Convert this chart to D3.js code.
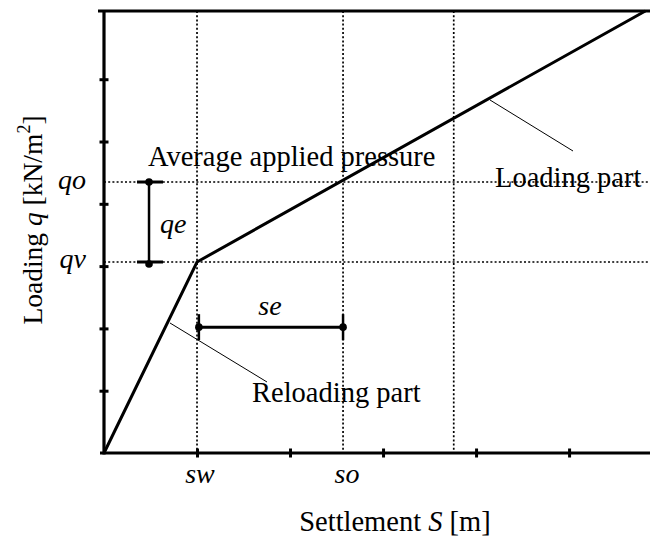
<!DOCTYPE html>
<html><head><meta charset="utf-8">
<script src="https://cdn.jsdelivr.net/npm/d3@7"></script>
<style>body{margin:0;background:#fff}svg{display:block}text{font-family:"Liberation Serif","Times New Roman",serif;fill:#000}</style>
</head><body><svg id="c" width="651" height="540"></svg>
<script>
// Data (x in settlement units, y in loading units)
const curveS = [0, 1.0, 5.82];
const curveQ = [0, 3.066, 7.095];
const xTicks = [1, 2, 3, 4, 5];
const yTicks = [1, 2, 3, 4, 5, 6];
const refS = [1.0, 2.57, 3.76];
const refQ = [3.066, 4.35];
const sLabels = ["sw", "so"];
const qLabels = ["qv", "qo"];
const seLevel = 2.02;
const qeAt = 0.484;

const svg = d3.select("#c");
const x = d3.scaleLinear().domain([0, 5.87]).range([104, 650]);
const y = d3.scaleLinear().domain([0, 7.095]).range([453, 11]);
const X0 = x(0), X1 = x(5.87), Y0 = y(0), YT = y(7.095);

// dotted reference lines
const dot = {"stroke":"#000","stroke-width":1.7,"stroke-dasharray":"2,2.2","fill":"none"};
function attrs(sel,o){for(const k in o) sel.attr(k,o[k]); return sel;}
refS.forEach(s=>attrs(svg.append("line").attr("x1",x(s)).attr("x2",x(s)).attr("y1",YT).attr("y2",Y0),dot));
refQ.forEach(q=>attrs(svg.append("line").attr("x1",X0).attr("x2",X1).attr("y1",y(q)).attr("y2",y(q)),dot));

// axes
const xAxis = d3.axisBottom(x).tickValues(xTicks).tickSize(0).tickFormat("");
const yAxis = d3.axisLeft(y).tickValues(yTicks).tickSize(0).tickFormat("");
const gx = svg.append("g").attr("transform",`translate(0,${Y0})`).call(xAxis);
gx.select(".domain").remove();
gx.selectAll(".tick line").attr("y1",-4.5).attr("y2",4.5).attr("stroke","#000").attr("stroke-width",3);
const gy = svg.append("g").attr("transform",`translate(${X0},0)`).call(yAxis);
gy.select(".domain").remove();
gy.selectAll(".tick line").attr("x1",-4.5).attr("x2",4.5).attr("stroke","#000").attr("stroke-width",3);
svg.append("line").attr("x1",X0-6).attr("x2",X1).attr("y1",YT).attr("y2",YT).attr("stroke","#000").attr("stroke-width",3.2);
svg.append("line").attr("x1",X0).attr("x2",X0).attr("y1",YT).attr("y2",Y0+1.5).attr("stroke","#000").attr("stroke-width",3.2);
svg.append("line").attr("x1",X0-4).attr("x2",X1).attr("y1",Y0).attr("y2",Y0).attr("stroke","#000").attr("stroke-width",3.2);

// curve
const line = d3.line().x((d,i)=>x(curveS[i])).y((d,i)=>y(curveQ[i]));
svg.append("path").attr("d",line(curveS)).attr("fill","none").attr("stroke","#000").attr("stroke-width",3).attr("stroke-linejoin","miter");

// qe bracket
svg.append("line").attr("x1",x(qeAt)).attr("x2",x(qeAt)).attr("y1",y(refQ[1])).attr("y2",y(refQ[0])).attr("stroke","#000").attr("stroke-width",2.5);
refQ.forEach(q=>{
  svg.append("line").attr("x1",x(qeAt)-12).attr("x2",x(qeAt)+14).attr("y1",y(q)).attr("y2",y(q)).attr("stroke","#000").attr("stroke-width",3);
  svg.append("circle").attr("cx",x(qeAt)).attr("cy",y(q)+ (q===refQ[0]?2:0)).attr("r",3.8).attr("fill","#000");
});
svg.append("text").attr("x",x(qeAt)+11).attr("y",233).attr("font-size",28).attr("font-style","italic").text("qe");

// se bracket
svg.append("line").attr("x1",x(refS[0])+2).attr("x2",x(refS[1])).attr("y1",y(seLevel)).attr("y2",y(seLevel)).attr("stroke","#000").attr("stroke-width",3);
[refS[0]+0.02, refS[1]].forEach(s=>{
  svg.append("line").attr("x1",x(s)).attr("x2",x(s)).attr("y1",y(seLevel)-13).attr("y2",y(seLevel)+13).attr("stroke","#000").attr("stroke-width",2.5);
  svg.append("circle").attr("cx",x(s)).attr("cy",y(seLevel)).attr("r",3.8).attr("fill","#000");
});
svg.append("text").attr("x",(x(refS[0])+x(refS[1]))/2).attr("y",315).attr("text-anchor","middle").attr("font-size",28).attr("font-style","italic").text("se");

// tick labels
refQ.forEach((q,i)=>svg.append("text").attr("x",86).attr("y",y(q)+(i===0?6:7)).attr("text-anchor","end").attr("font-size",28).attr("font-style","italic").text(qLabels[i]));
refS.slice(0,2).forEach((s,i)=>svg.append("text").attr("x",x(s)+(i===0?3:4)).attr("y",483).attr("text-anchor","middle").attr("font-size",28).attr("font-style","italic").text(sLabels[i]));

// annotations
svg.append("text").attr("x",148).attr("y",166).attr("font-size",28.5).text("Average applied pressure");
svg.append("line").attr("x1",490).attr("y1",100).attr("x2",573).attr("y2",151).attr("stroke","#000").attr("stroke-width",1);
svg.append("text").attr("x",495).attr("y",187).attr("font-size",28.5).text("Loading part");
svg.append("line").attr("x1",170).attr("y1",323).attr("x2",267).attr("y2",382).attr("stroke","#000").attr("stroke-width",1);
svg.append("text").attr("x",252).attr("y",402).attr("font-size",28.5).text("Reloading part");

// axis titles
const xt = svg.append("text").attr("x",395).attr("y",531).attr("text-anchor","middle").attr("font-size",28.5);
xt.append("tspan").text("Settlement ");
xt.append("tspan").attr("font-style","italic").text("S");
xt.append("tspan").text(" [m]");
const yt = svg.append("text").attr("transform","translate(42,220) rotate(-90)").attr("text-anchor","middle").attr("font-size",27.5);
yt.append("tspan").text("Loading ");
yt.append("tspan").attr("font-style","italic").text("q");
yt.append("tspan").text(" [kN/m");
yt.append("tspan").attr("font-size",18).attr("dy",-12).text("2");
yt.append("tspan").attr("dy",12).text("]");
</script></body></html>
